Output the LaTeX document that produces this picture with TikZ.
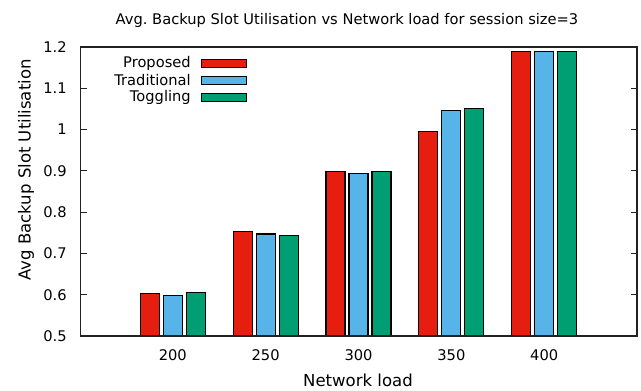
\documentclass[tikz,border=0pt]{standalone}
\usepackage{fontspec}
\setmainfont{DejaVu Sans}
\frenchspacing
\definecolor{cred}{HTML}{E51E10}
\definecolor{cblue}{HTML}{56B4E9}
\definecolor{cgreen}{HTML}{009E73}
\definecolor{axisgray}{HTML}{222222}
\tikzset{
  bar/.style={draw=black, line width=0.8pt},
  frame/.style={draw=axisgray, line width=1.1pt},
  tick/.style={draw=axisgray, line width=0.8pt},
  lbl/.style={inner sep=0pt, font=\fontsize{11}{12}\selectfont},
  axlbl/.style={inner sep=0pt, font=\fontsize{12.4}{14}\selectfont},
}
% value (0.5 .. 1.2) to vertical pixel position
\newcommand{\vy}[1]{336-(#1-0.5)*412.9}
\begin{document}
\begin{tikzpicture}[x=0.75pt,y=-0.75pt]
\useasboundingbox (0,0) rectangle (641,390);

% plot frame
\coordinate (bl) at (80.5,336);
\coordinate (tr) at (637,47);
\draw[frame] (bl) rectangle (tr);

% y ticks (left and mirrored on right) with labels
\foreach \v/\t in {0.5/0.5,0.6/0.6,0.7/0.7,0.8/0.8,0.9/0.9,1.0/1,1.1/1.1,1.2/1.2}{
  \draw[tick] (80.5,{\vy{\v}}) -- ++(6.5,0);
  \draw[tick] (637,{\vy{\v}}) -- ++(-6.5,0);
  \node[lbl, anchor=east] (yt\t) at (67,{\vy{\v}}) {\t};
}

% bars: group centre spacing 92.85 px, bar width 19 px, offset 23 px
\foreach \i/\lab/\a/\b/\c in {0/200/0.604/0.598/0.606,
                               1/250/0.752/0.747/0.744,
                               2/300/0.898/0.894/0.899,
                               3/350/0.996/1.046/1.051,
                               4/400/1.188/1.190/1.188}{
  \pgfmathsetmacro{\cx}{172.8+92.85*\i}
  \draw[bar, fill=cred]   ({\cx-32.5},336) rectangle ({\cx-13.5},{\vy{\a}});
  \draw[bar, fill=cblue]  ({\cx-9.5},336)  rectangle ({\cx+9.5},{\vy{\b}});
  \draw[bar, fill=cgreen] ({\cx+13.5},336) rectangle ({\cx+32.5},{\vy{\c}});
  \node[lbl] (xt\lab) at (\cx,355) {\lab};
}

% redraw the base line over the bar outlines
\draw[frame] (bl) -- (637,336);

% legend
\foreach \k/\name/\col in {0/Proposed/cred,1/Traditional/cblue,2/Toggling/cgreen}{
  \node[lbl, anchor=east] (leg\name) at (191,{63.5+17*\k}) {\name};
  \draw[bar, fill=\col] (201.7,{59.3+17*\k}) rectangle (246.7,{67.7+17*\k});
}

% titles
\node[lbl] (title) at (347,20) {Avg. Backup Slot Utilisation vs Network load for session size=3};
\node[axlbl] (xlabel) at (358,380.5) {Network load};
\node[axlbl, rotate=90] (ylabel) at (26,170) {Avg Backup Slot Utilisation};
\end{tikzpicture}
\end{document}
